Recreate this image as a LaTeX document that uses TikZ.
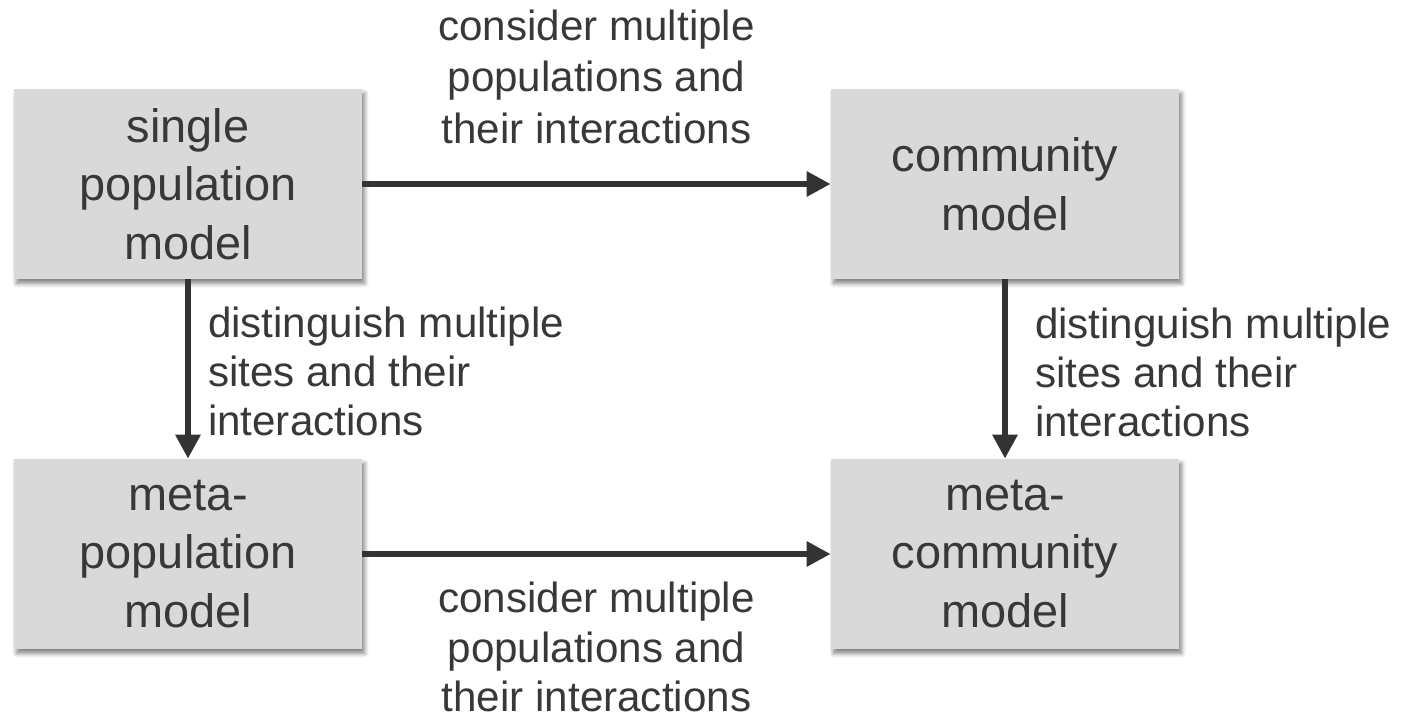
\documentclass[tikz,border=0pt]{standalone}
\usepackage{fontspec}
\setmainfont{Liberation Sans}
\usetikzlibrary{arrows.meta}
\usetikzlibrary{shadows.blur}
\definecolor{boxgray}{HTML}{D9D9D9}
\definecolor{inkgray}{HTML}{383838}
\definecolor{arrowgray}{HTML}{333333}

\begin{document}
\begin{tikzpicture}[
  modelbox/.style={fill=boxgray, minimum width=6.96cm, minimum height=3.8cm, inner sep=0pt,
    align=center, text=inkgray, font=\fontsize{26.7}{33.3}\selectfont,
    blur shadow={shadow xshift=1.5pt, shadow yshift=-2.5pt, shadow blur radius=2.5pt, shadow blur steps=6, shadow opacity=50}},
  flow/.style={draw=arrowgray, line width=0.12cm, -{Triangle[length=0.48cm,width=0.48cm]}},
  steplabel/.style={text=inkgray, inner sep=0pt, font=\fontsize{24}{29.3}\selectfont},
  sitelabel/.style={steplabel, font=\fontsize{24}{27.8}\selectfont, align=left}
]
\useasboundingbox (0,0) rectangle (28.08,-14.4);
\node[modelbox] (single) at (3.76,-3.68) {single\\population\\model};
\node[modelbox] (community) at (20.1,-3.68) {community\\model};
\node[modelbox] (metapop) at (3.76,-11.08) {meta-\\population\\model};
\node[modelbox] (metacom) at (20.1,-11.08) {meta-\\community\\model};
\draw[flow] (single) -- node[steplabel, anchor=south, yshift=0.75cm, align=center] {consider multiple\\populations and\\their interactions} (community);
\draw[flow] (metapop) -- node[steplabel, font=\fontsize{24}{28.2}\selectfont, anchor=north, yshift=-0.5cm, align=center] {consider multiple\\populations and\\their interactions} (metacom);
\draw[flow] (single) -- node[sitelabel, pos=0, anchor=north west, xshift=0.34cm, yshift=-0.5cm] {distinguish multiple\\sites and their\\interactions} (metapop);
\draw[flow] (community) -- node[sitelabel, pos=0, anchor=north west, xshift=0.54cm, yshift=-0.52cm] {distinguish multiple\\sites and their\\interactions} (metacom);
\end{tikzpicture}
\end{document}
